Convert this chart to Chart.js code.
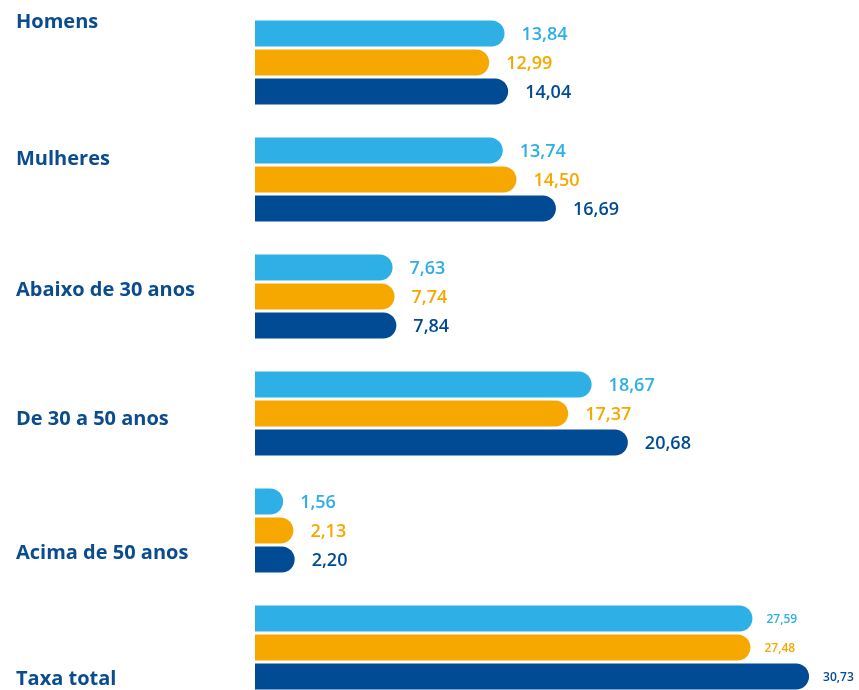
<!DOCTYPE html>
<html>
<head>
<meta charset="utf-8">
<script src="https://cdn.jsdelivr.net/npm/chart.js@4/dist/chart.umd.min.js"></script>
<style>
  html, body { margin: 0; padding: 0; background: #fff; overflow: hidden; }
  #wrap { width: 859px; height: 706px; }
</style>
</head>
<body>
<div id="wrap"><canvas id="taxa" width="859" height="706"></canvas></div>
<script>
var categories = ['Homens', 'Mulheres', 'Abaixo de 30 anos', 'De 30 a 50 anos', 'Acima de 50 anos', 'Taxa total'];
var serieA = [13.84, 13.74, 7.63, 18.67, 1.56, 27.59];
var serieB = [12.99, 14.50, 7.74, 17.37, 2.13, 27.48];
var serieC = [14.04, 16.69, 7.84, 20.68, 2.20, 30.73];

var colors = ['#2eafe6', '#f7a800', '#004b93'];
// shift of each category label, in bar rows, from the group centre
var labelShift = [-1.4, -0.7, -0.2, 0.2, 0.8, 1.1];

function fmt(v) {
    return v.toFixed(2).replace('.', ',');
}

var sideLabels = {
    id: 'sideLabels',
    afterDatasetsDraw: function (chart) {
        var ctx = chart.ctx;
        var y = chart.scales.y;
        var m0 = chart.getDatasetMeta(0), m1 = chart.getDatasetMeta(1);
        ctx.save();
        ctx.font = 'bold 20px "Open Sans"';
        ctx.fillStyle = '#0b4c8f';
        ctx.textBaseline = 'middle';
        ctx.textAlign = 'left';
        categories.forEach(function (c, i) {
            var row = m1.data[i].y - m0.data[i].y;
            ctx.fillText(c, 16, y.getPixelForValue(i) + labelShift[i] * row);
        });
        // value labels
        chart.data.datasets.forEach(function (ds, d) {
            var meta = chart.getDatasetMeta(d);
            meta.data.forEach(function (bar, i) {
                var last = i === categories.length - 1;
                ctx.font = (last ? '600 12px' : '600 18px') + ' "Open Sans"';
                ctx.fillStyle = ds.backgroundColor;
                ctx.fillText(fmt(ds.data[i]), bar.x + (last ? 14 : 17), bar.y + 1);
            });
        });
        ctx.restore();
    }
};

var ctx = document.getElementById('taxa').getContext('2d');

var graphic = new Chart(ctx, {
    type: 'bar',
    data: {
        labels: categories,
        datasets: [
            { label: 'Série 1', data: serieA, backgroundColor: colors[0] },
            { label: 'Série 2', data: serieB, backgroundColor: colors[1] },
            { label: 'Série 3', data: serieC, backgroundColor: colors[2] }
        ]
    },
    options: {
        indexAxis: 'y',
        responsive: false,
        animation: false,
        layout: { padding: { left: 255, right: 0, top: 4, bottom: 0 } },
        datasets: {
            bar: {
                categoryPercentage: 0.744,
                barPercentage: 0.897,
                borderRadius: 13,
                borderSkipped: 'start'
            }
        },
        scales: {
            x: { display: false, min: 0, max: 33.5 },
            y: { display: false }
        },
        plugins: {
            legend: { display: false },
            tooltip: { enabled: false }
        }
    },
    plugins: [sideLabels]
});
</script>
</body>
</html>
